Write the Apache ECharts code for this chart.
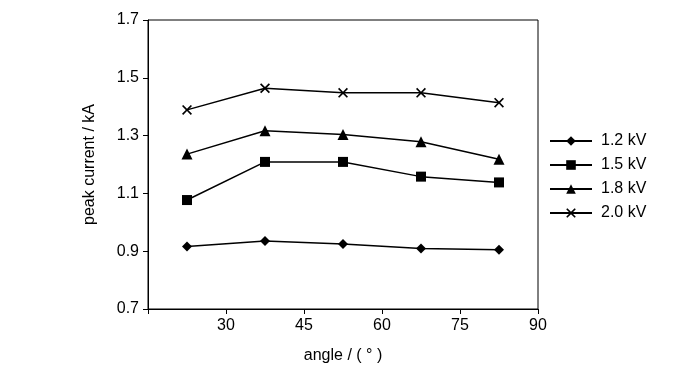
<!DOCTYPE html>
<html><head><meta charset="utf-8">
<script src="https://cdn.jsdelivr.net/npm/echarts@6/dist/echarts.min.js"></script>
<style>html,body{margin:0;padding:0;background:#fff}#c{width:700px;height:373px}</style>
</head><body><div id="c"></div>
<script>
const angles = [22.5, 37.5, 52.5, 67.5, 82.5];
const seriesNames = ['1.2 kV', '1.5 kV', '1.8 kV', '2.0 kV'];
const v12 = [0.916, 0.935, 0.925, 0.909, 0.905];
const v15 = [1.077, 1.209, 1.209, 1.158, 1.138];
const v18 = [1.236, 1.317, 1.304, 1.279, 1.218];
const v20 = [1.389, 1.464, 1.448, 1.448, 1.414];
const values = [v12, v15, v18, v20];
const symbols = ['diamond', 'rect', 'triangle',
  'path://M0,1.2L1.2,0L5,3.8L8.8,0L10,1.2L6.2,5L10,8.8L8.8,10L5,6.2L1.2,10L0,8.8L3.8,5Z'];
const sizes = [10, 10, 11, 10];

const font = '"Liberation Sans", Arial, sans-serif';
const fs = 16;
const chart = echarts.init(document.getElementById('c'));
chart.setOption({
  animation: false,
  backgroundColor: '#fff',
  grid: {left: 148, right: 162, top: 20, bottom: 64, show: true, borderColor: '#000', borderWidth: 1},
  legend: {
    orient: 'vertical', left: 549, top: 133, padding: 0, itemWidth: 42, itemHeight: 12, itemGap: 8,
    data: seriesNames,
    textStyle: {fontFamily: font, fontSize: fs, color: '#000', padding: [0, 0, 0, 4]}
  },
  xAxis: {
    type: 'value', min: 15, max: 90, interval: 15,
    name: 'angle / ( ° )', nameLocation: 'middle', nameGap: 39,
    nameTextStyle: {fontFamily: font, fontSize: fs, color: '#000'},
    axisLine: {lineStyle: {color: '#000'}},
    axisTick: {show: true, length: 5, lineStyle: {color: '#000'}},
    axisLabel: {fontFamily: font, fontSize: fs, color: '#000', margin: 9,
      formatter: v => v === 15 ? '' : v},
    splitLine: {show: false}
  },
  yAxis: {
    type: 'value', min: 0.7, max: 1.7, interval: 0.2,
    name: 'peak current / kA', nameLocation: 'middle', nameGap: 50,
    nameTextStyle: {fontFamily: font, fontSize: fs, color: '#000'},
    axisLine: {show: true, lineStyle: {color: '#000'}},
    axisTick: {show: true, length: 5, lineStyle: {color: '#000'}},
    axisLabel: {fontFamily: font, fontSize: fs, color: '#000', margin: 9,
      formatter: v => v.toFixed(1)},
    splitLine: {show: false}
  },
  series: seriesNames.map((n, i) => ({
    name: n, type: 'line',
    data: angles.map((a, j) => [a, values[i][j]]),
    symbol: symbols[i], symbolSize: sizes[i],
    lineStyle: {color: '#000', width: 1.5},
    itemStyle: {color: '#000'}
  }))
});
</script></body></html>
